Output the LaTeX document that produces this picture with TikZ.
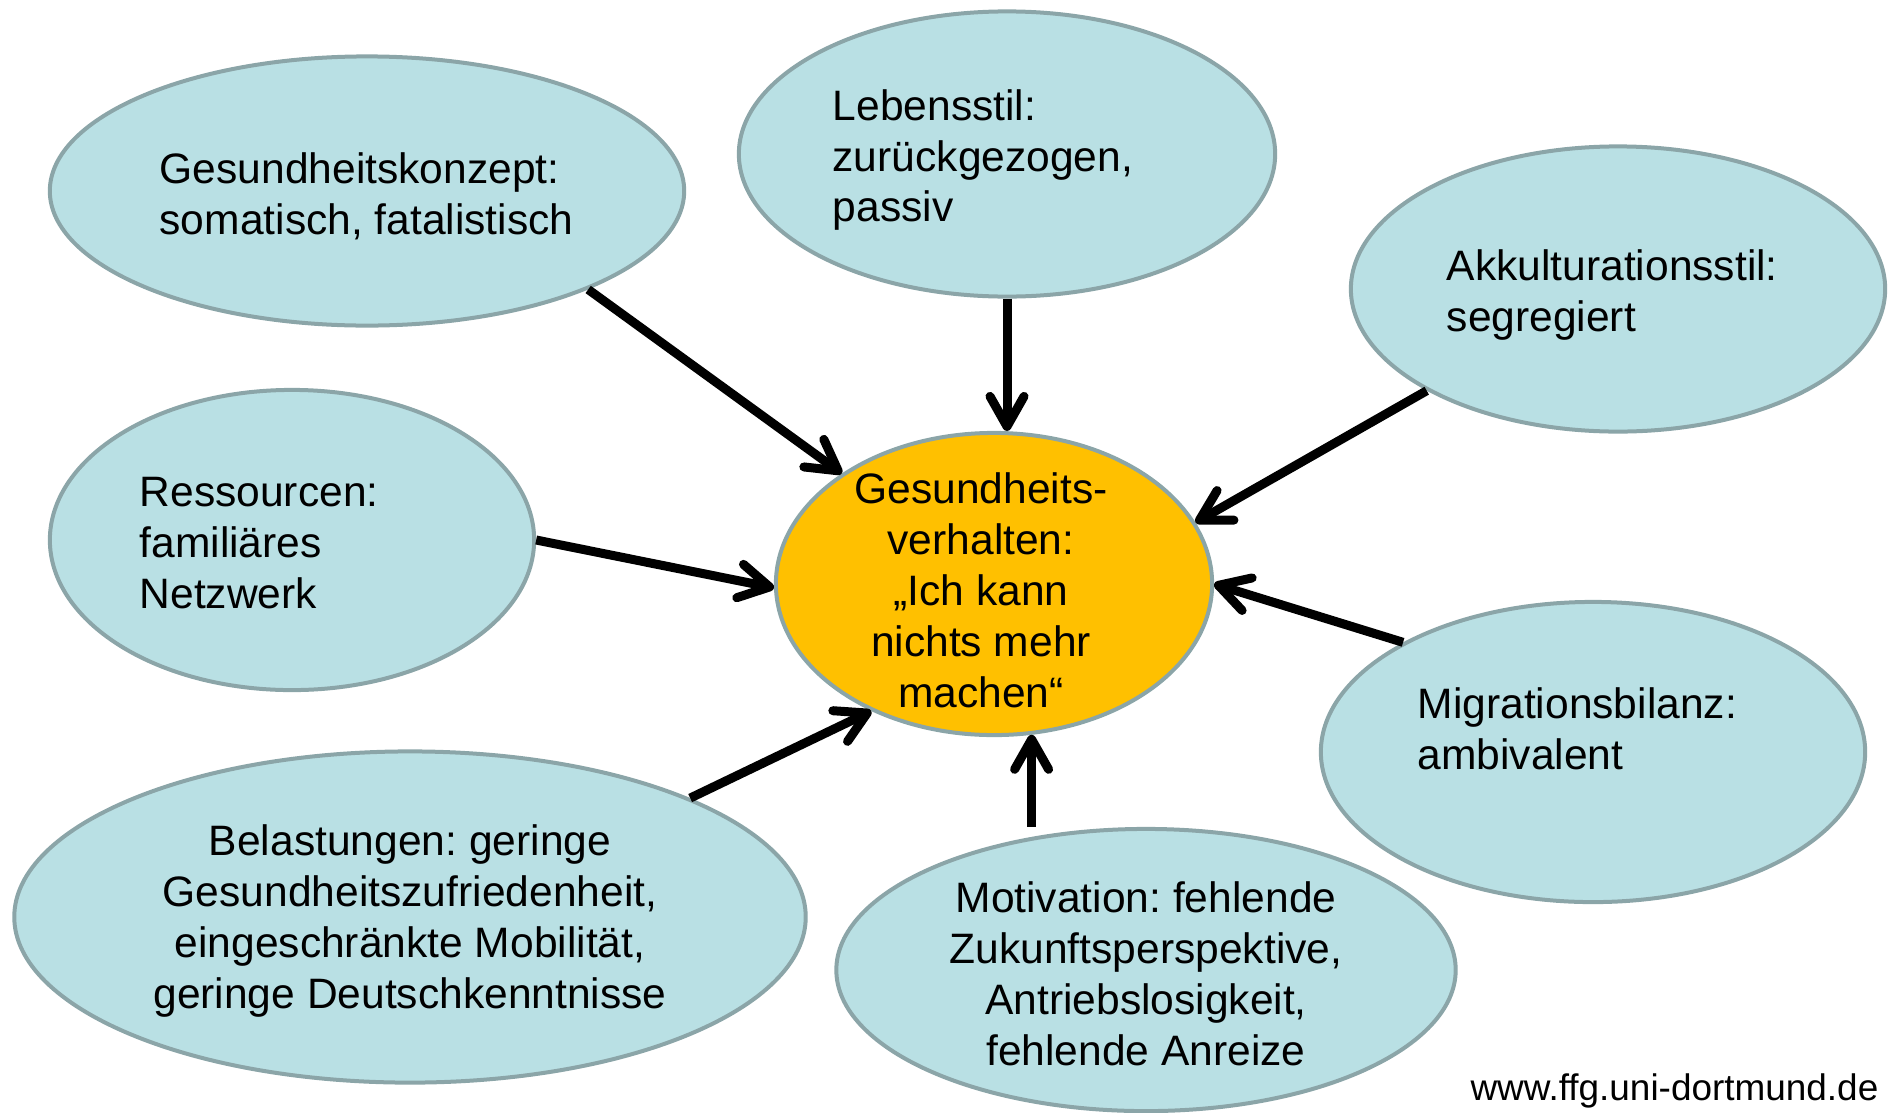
\documentclass[tikz,border=0pt]{standalone}
\usepackage{fontspec}
\setmainfont{Liberation Sans}
\usepackage{tikz}
\usetikzlibrary{shapes,arrows.meta}
\frenchspacing

\definecolor{bubblefill}{RGB}{185,224,228}
\definecolor{bubbleline}{RGB}{139,165,168}
\definecolor{coreorange}{RGB}{255,192,0}

\begin{document}
\begin{tikzpicture}[x=0.01cm,y=-0.01cm,
    bubble/.style={ellipse,draw=bubbleline,line width=0.04cm,fill=bubblefill,inner sep=0pt},
    core/.style={bubble,fill=coreorange},
    txt/.style={inner sep=0pt,font=\fontsize{12.1}{14.5}\selectfont},
    arr/.style={line width=0.09cm,-{Straight Barb[length=3mm,width=3.4mm,round]}}]
   \useasboundingbox (0,0) rectangle (1889,1112);
   % the bubbles
   \node[bubble,minimum width=6.34cm,minimum height=2.69cm] (konzept) at (367,191) {};
   \node[bubble,minimum width=5.36cm,minimum height=2.85cm] (stil) at (1007,154) {};
   \node[bubble,minimum width=5.34cm,minimum height=2.85cm] (akk) at (1618,289) {};
   \node[bubble,minimum width=4.84cm,minimum height=3.00cm] (res) at (292,540) {};
   \node[core,minimum width=4.36cm,minimum height=3.02cm] (mid) at (994,584) {};
   \node[bubble,minimum width=5.44cm,minimum height=3.00cm] (mig) at (1593,752) {};
   \node[bubble,minimum width=7.91cm,minimum height=3.31cm] (bel) at (410,917) {};
   \node[bubble,minimum width=6.19cm,minimum height=2.82cm] (mot) at (1146,970) {};
   % the texts
   \node[txt,right,align=left] (konzepttxt) at (159,196) {Gesundheitskonzept:\\somatisch, fatalistisch};
   \node[txt,right,align=left] (stiltxt) at (832,160) {Lebensstil:\\zurückgezogen,\\passiv};
   \node[txt,right,align=left] (akktxt) at (1446,295) {Akkulturationsstil:\\segregiert};
   \node[txt,right,align=left] (restxt) at (139,543) {Ressourcen:\\familiäres\\Netzwerk};
   \node[txt,align=center] (midtxt) at (981,590) {Gesundheits-\\verhalten:\\„Ich kann\\nichts mehr\\machen“};
   \node[txt,right,align=left] (migtxt) at (1417,729) {Migrationsbilanz:\\ambivalent};
   \node[txt,align=center] (beltxt) at (410,921) {Belastungen: geringe\\Gesundheitszufriedenheit,\\eingeschränkte Mobilität,\\geringe Deutschkenntnisse};
   \node[txt,align=center] (mottxt) at (1146,974) {Motivation: fehlende\\Zukunftsperspektive,\\Antriebslosigkeit,\\fehlende Anreize};
   \node[inner sep=0pt,anchor=base east,font=\fontsize{10.5}{12}\selectfont] (url) at (1879,1100) {www.ffg.uni-dortmund.de};
   % the arrows
   \draw[arr] (konzept.-24) -- (mid.144);
   \draw[arr] (stil.south) -- (stil.south |- mid.north);
   \draw[arr] (akk.208) -- (mid.17);
   \draw[arr] (res.east) -- (mid.181);
   \draw[arr] (mig.150) -- (mid.east);
   \draw[arr] (mid.-76 |- mot.north) -- (mid.-76);
   \draw[arr] (bel.23) -- (mid.-134);
\end{tikzpicture}
\end{document}
